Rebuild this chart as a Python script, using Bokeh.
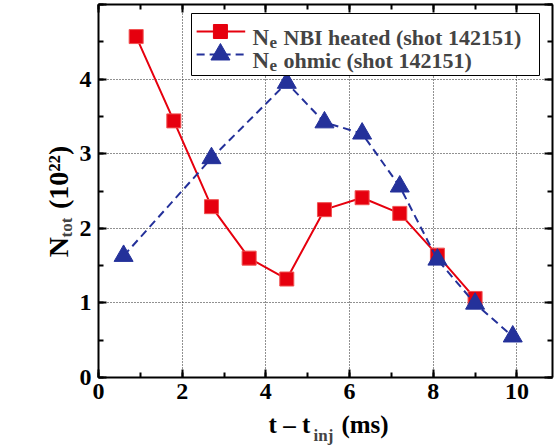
import math
from bokeh.plotting import figure
from bokeh.models import (LinearAxis, SingleIntervalTicker, Grid,
                          Range1d, Label, BoxAnnotation)
from bokeh.embed import file_html
from bokeh.resources import INLINE

# ---- data ----
nbi_t = [0.9, 1.8, 2.7, 3.6, 4.5, 5.4, 6.3, 7.2, 8.1, 9.0]
nbi_n = [4.57, 3.44, 2.29, 1.60, 1.32, 2.25, 2.41, 2.20, 1.64, 1.06]
ohm_t = [0.6, 2.7, 4.5, 5.4, 6.3, 7.2, 8.1, 9.0, 9.9]
ohm_n = [1.63, 2.94, 3.95, 3.42, 3.27, 2.56, 1.58, 0.99, 0.55]
x_major = [0, 2, 4, 6, 8, 10]
y_major = [0, 1, 2, 3, 4, 5]
legend_nbi = "NBI heated (shot 142151)"
legend_ohm = "ohmic (shot 142151)"
NB = "\u00a0"
x_title = NB + "t \u2013 t" + NB * 5 + "(ms)"
x_title_sub = "inj"
y_title = "N" + NB * 4 + "(10\u00b2\u00b2)" + NB * 3
y_title_sub = "tot"

RED = "#e6000e"
BLUE = "#24319a"
FONT = "Liberation Serif"

X0, X1 = 0.0, 10.85
Y0, Y1 = 0.0, 5.0
FL, FT, FW, FH = 94, 4, 458, 373
W, H = 560, 445

# estimated left edges (page x) of the side panels that hold the sub-labels
INJ_PANEL_X = 16
TOT_PANEL_X = 4


def dx(px):
    return X0 + (px - FL) / FW * (X1 - X0)


def dy(py):
    return Y0 + (FT + FH - py) / FH * (Y1 - Y0)


def sx(px):
    return px - FL


def sy(py):
    return (FT + FH) - py


p = figure(width=W, height=H, output_backend="svg", toolbar_location=None,
           x_range=Range1d(X0, X1), y_range=Range1d(Y0, Y1),
           min_border_left=FL, min_border_right=W - FL - FW,
           min_border_top=FT, min_border_bottom=H - FT - FH,
           x_axis_type=None, y_axis_type=None)
p.outline_line_color = None
p.background_fill_color = "white"
p.border_fill_color = "white"

xt = SingleIntervalTicker(interval=2, num_minor_ticks=2)
yt = SingleIntervalTicker(interval=1, num_minor_ticks=2)


def style_axis(ax, blank_ticks=None):
    ax.axis_line_width = 2
    ax.axis_line_color = "black"
    ax.major_tick_line_width = 2
    ax.minor_tick_line_width = 2
    ax.major_tick_in = 8
    ax.major_tick_out = 0
    ax.minor_tick_in = 5
    ax.minor_tick_out = 0
    ax.major_label_text_font = FONT
    ax.major_label_text_font_style = "bold"
    ax.major_label_text_font_size = "24px"
    ax.major_label_text_color = "black"
    ax.major_label_standoff = 6
    ax.axis_label_text_font = FONT
    ax.axis_label_text_font_style = "bold"
    ax.axis_label_text_color = "black"
    ax.axis_label_standoff = 0
    if blank_ticks is not None:
        ax.major_label_standoff = 0
        ax.major_label_overrides = {t: "" for t in blank_ticks}


xb = LinearAxis(ticker=xt, axis_label=x_title); style_axis(xb)
xb.axis_label_text_font_size = "25px"
xb.axis_label_standoff = 9
yl = LinearAxis(ticker=yt, axis_label=y_title); style_axis(yl)
yl.axis_label_text_font_size = "28px"
yl.axis_label_standoff = 3
yl.major_label_standoff = 7
yl.major_label_overrides = {y_major[-1]: ""}
xa = LinearAxis(ticker=xt); style_axis(xa, x_major)
yr = LinearAxis(ticker=yt); style_axis(yr, y_major)
p.add_layout(xb, "below")
p.add_layout(yl, "left")
p.add_layout(xa, "above")
p.add_layout(yr, "right")

for dim, tk in ((0, xt), (1, yt)):
    g = Grid(dimension=dim, ticker=tk, grid_line_color="#222222",
             grid_line_dash="1 2", grid_line_width=1)
    p.add_layout(g)

# ---- data series ----
p.line(nbi_t, nbi_n, line_color=RED, line_width=2)
p.scatter(nbi_t, nbi_n, marker="square", size=14, fill_color=RED,
          line_color="#f05050", line_width=1)
p.line(ohm_t, ohm_n, line_color=BLUE, line_width=2, line_dash="8 5")
p.scatter(ohm_t, ohm_n, marker="triangle", size=19, fill_color=BLUE, line_color=BLUE)

# ---- legend (drawn manually to allow subscripts) ----
box = BoxAnnotation(left=sx(187), right=sx(535), top=sy(13), bottom=sy(75),
                    left_units="screen", right_units="screen",
                    top_units="screen", bottom_units="screen",
                    fill_color="white", fill_alpha=1.0,
                    line_color="black", line_width=1, line_alpha=1.0)
p.add_layout(box)

rows = [(31, RED, "square", 14, None, legend_nbi),
        (54, BLUE, "triangle", 19, "8 5", legend_ohm)]
for (ry, col, mk, ms, dash, txt) in rows:
    kw = dict(line_color=col, line_width=2, level="overlay")
    if dash:
        kw["line_dash"] = dash
    p.segment(x0=[dx(193)], y0=[dy(ry)], x1=[dx(242)], y1=[dy(ry)], **kw)
    p.scatter([dx(217)], [dy(ry)], marker=mk, size=ms, fill_color=col,
              line_color=col, level="overlay")
    base = ry + 6
    for t, px, off, fs in (("N", 248, 0, 23), ("e", 265, 5, 17), (txt, 279, 0, 22)):
        p.add_layout(Label(x=sx(px), y=sy(base + off), x_units="screen", y_units="screen",
                           text=t, text_font=FONT, text_font_style="bold",
                           text_font_size=f"{fs}px", text_baseline="alphabetic"))

# ---- subscripts of the axis titles (in the left side panel so they are not clipped) ----
# "inj": horizontal, starting at page x≈310, baseline at page y≈435
p.add_layout(Label(x=310 - INJ_PANEL_X, y=(FT + FH) - 435,
                   x_units="screen", y_units="screen", text=x_title_sub,
                   text_font=FONT, text_font_style="bold",
                   text_font_size="17px", text_baseline="alphabetic"), "left")
# "tot": rotated, baseline at page x≈70, starting at page y≈237
p.add_layout(Label(x=70 - TOT_PANEL_X, y=(FT + FH) - 237,
                   x_units="screen", y_units="screen", text=y_title_sub,
                   angle=math.pi / 2, text_font=FONT, text_font_style="bold",
                   text_font_size="17px", text_baseline="alphabetic"), "left")

open("out.html", "w").write(file_html(p, INLINE))
